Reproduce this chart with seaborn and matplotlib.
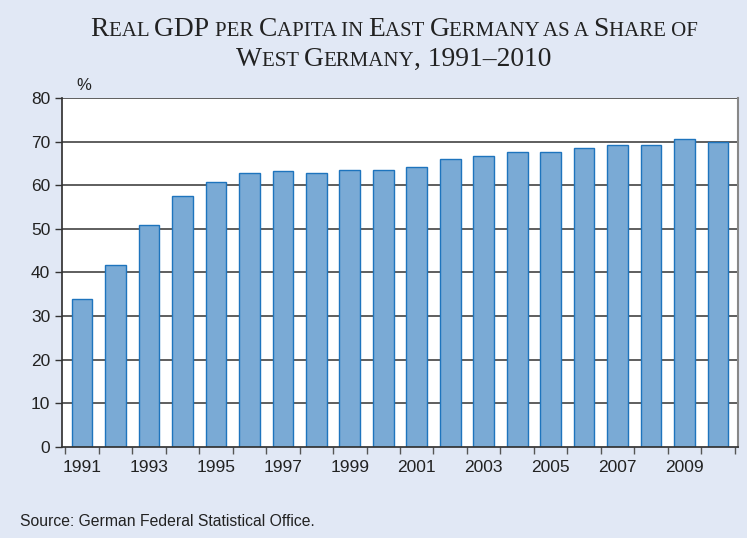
import numpy as np
import pandas as pd
import seaborn as sns
import matplotlib.pyplot as plt
from matplotlib.ticker import FixedLocator, NullFormatter

years = list(range(1991, 2011))
share = [34.0, 41.7, 50.8, 57.5, 60.8, 62.8, 63.3, 62.8, 63.5, 63.4,
         64.2, 65.9, 66.8, 67.7, 67.7, 68.5, 69.1, 69.3, 70.6, 69.9]
yticks = [0, 10, 20, 30, 40, 50, 60, 70, 80]
title_lines = [
    [("R", 1), ("EAL ", 0), ("GDP ", 1), ("PER ", 0), ("C", 1), ("APITA IN ", 0),
     ("E", 1), ("AST ", 0), ("G", 1), ("ERMANY AS A ", 0), ("S", 1), ("HARE OF", 0)],
    [("W", 1), ("EST ", 0), ("G", 1), ("ERMANY", 0), (", 1991\u20132010", 1)],
]

bg = "#E1E8F5"
sns.set_theme(style="white")
plt.rcParams["font.family"] = ["Liberation Sans", "DejaVu Sans"]

df = pd.DataFrame({"year": [str(y) for y in years], "share": share})

fig = plt.figure(figsize=(7.47, 5.38), dpi=100, facecolor=bg)
ax = fig.add_axes([0.083, 0.169, 0.905, 0.649])
ax.set_facecolor("white")

sns.barplot(data=df, x="year", y="share", color="#7AAAD5", saturation=1,
            width=0.62, edgecolor="#1E74BD", linewidth=1.0, ax=ax, zorder=3)

ax.set_ylim(0, 80)
ax.set_xlim(-0.6, len(years) - 0.4)
ax.set_yticks(yticks)
ax.set_yticklabels([str(t) for t in yticks], fontsize=12.5, color="#222222")
for t in yticks[1:]:
    ax.axhline(t, color="#333333", lw=1.1, zorder=1)

# labels every other year, ticks at bar boundaries
ax.set_xticks(range(0, len(years), 2))
ax.set_xticklabels([str(y) for y in years[::2]], fontsize=12.5, color="#222222")
ax.tick_params(axis="x", which="major", length=0, pad=9)
ax.xaxis.set_minor_locator(FixedLocator(np.arange(-0.5, len(years), 1.0)))
ax.xaxis.set_minor_formatter(NullFormatter())
ax.tick_params(axis="x", which="minor", length=5, width=1, color="#555555", bottom=True)
ax.tick_params(axis="y", length=5, width=1, color="#333333", left=True)
ax.set_xlabel("")
ax.set_ylabel("")

ax.spines["top"].set_visible(False)
ax.spines["left"].set_color("#333333")
ax.spines["bottom"].set_color("#333333")
ax.spines["right"].set_color("#888888")
ax.spines["right"].set_linewidth(1.5)
for s in ax.spines.values():
    s.set_zorder(4)

fig.text(76 / 747, 1 - 85 / 538, "%", fontsize=12, color="#222222", ha="left", va="center")
fig.text(20 / 747, 1 - 522 / 538, "Source: German Federal Statistical Office.",
         fontsize=11.3, color="#222222", ha="left", va="center")

# small-caps title built from runs
renderer = fig.canvas.get_renderer()
sizes = {1: 19.8, 0: 15}
center = 394
for line, ypix in zip(title_lines, [36, 66]):
    ypos = 1 - ypix / 538
    texts = []
    for txt, big in line:
        t = fig.text(0, ypos, txt, fontsize=sizes[big], family="Liberation Serif",
                     color="#222222", ha="left", va="baseline")
        texts.append(t)
    widths = [t.get_window_extent(renderer).width for t in texts]
    total = sum(widths)
    x = center - total / 2
    for t, w in zip(texts, widths):
        t.set_x(x / fig.bbox.width)
        x += w

fig.savefig("out.png", dpi=100, facecolor=bg)
